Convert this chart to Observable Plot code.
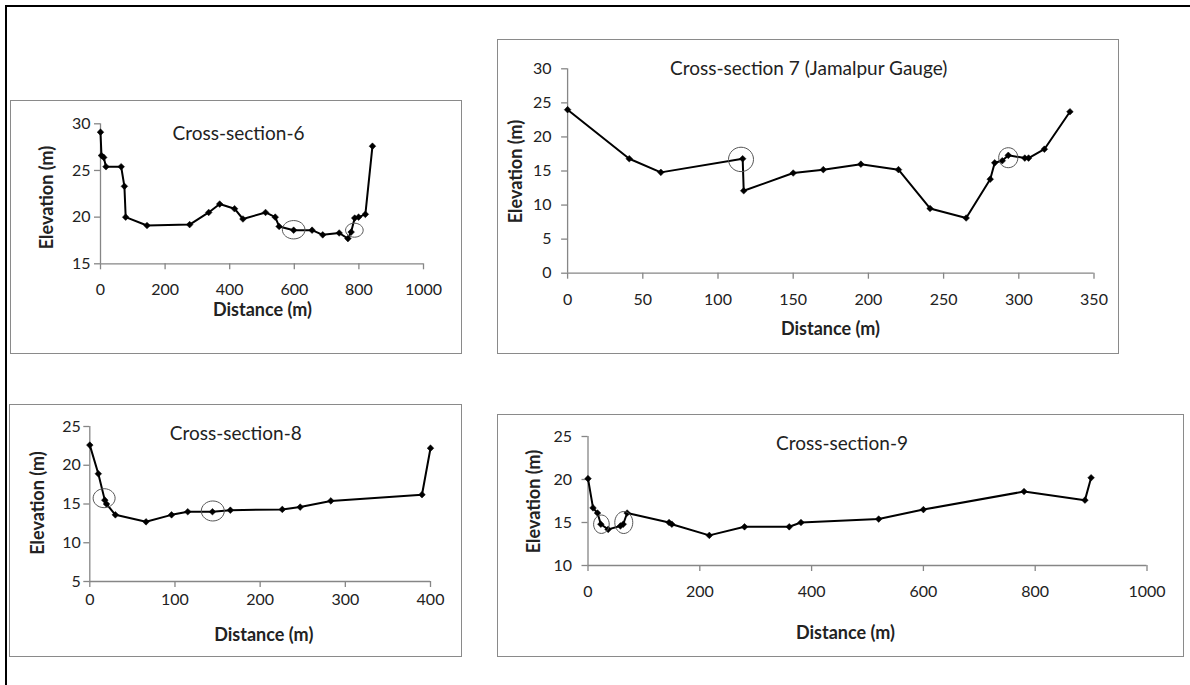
<!DOCTYPE html>
<html>
<head>
<meta charset="utf-8">
<script src="https://cdn.jsdelivr.net/npm/d3@7"></script>
<script src="https://cdn.jsdelivr.net/npm/@observablehq/plot@0.6"></script>
<style>
  html, body { margin: 0; padding: 0; background: #fff; overflow: hidden; }
  body { width: 1190px; height: 685px; position: relative; font-family: Lato, "Open Sans", sans-serif; }
  .frame { position: absolute; left: 5px; top: 5px; width: 1200px; height: 700px; border-left: 2.5px solid #000; border-top: 2.5px solid #000; }
  .box { position: absolute; border: 1.5px solid #8a8a8a; box-sizing: border-box; }
  .chart { position: absolute; }
  .chart svg { overflow: visible; }
</style>
</head>
<body>
<div class="frame"></div>
<script>
// ---------------- DATA ----------------
const CS6_TITLE = "Cross-section-6";
const CS6_DIST = [0, 3, 10, 17, 64, 74, 78, 144, 276, 335, 369, 415, 441, 511, 541, 553, 598, 655, 688, 739, 766, 776, 787, 799, 820, 842];
const CS6_ELEV = [29.1, 26.6, 26.4, 25.4, 25.4, 23.3, 20.0, 19.1, 19.2, 20.5, 21.4, 20.9, 19.8, 20.5, 20.0, 19.0, 18.6, 18.6, 18.1, 18.3, 17.7, 18.4, 19.9, 20.0, 20.3, 27.6];
const CS6_CIRCLE_DIST = [598, 786];
const CS6_CIRCLE_ELEV = [18.65, 18.6];
const CS6_XTICKS = [0, 200, 400, 600, 800, 1000];
const CS6_YTICKS = [15, 20, 25, 30];

const CS7_TITLE = "Cross-section 7 (Jamalpur Gauge)";
const CS7_DIST = [0, 41, 62, 116.4, 117.1, 150, 170, 195, 220, 241, 265, 281, 284, 289, 293, 304, 306.5, 317, 334];
const CS7_ELEV = [24.0, 16.8, 14.8, 16.8, 12.1, 14.7, 15.2, 16.0, 15.2, 9.5, 8.1, 13.8, 16.2, 16.5, 17.3, 16.9, 16.9, 18.2, 23.7];
const CS7_CIRCLE_DIST = [115.3, 293];
const CS7_CIRCLE_ELEV = [16.7, 16.95];
const CS7_XTICKS = [0, 50, 100, 150, 200, 250, 300, 350];
const CS7_YTICKS = [0, 5, 10, 15, 20, 25, 30];

const CS8_TITLE = "Cross-section-8";
const CS8_DIST = [0, 10, 17.6, 19.6, 30, 66, 96, 115, 144, 165, 226, 247, 283, 390, 400];
const CS8_ELEV = [22.6, 18.9, 15.5, 15.0, 13.6, 12.7, 13.6, 14.0, 14.0, 14.2, 14.3, 14.6, 15.4, 16.2, 22.2];
const CS8_CIRCLE_DIST = [16.8, 144.4];
const CS8_CIRCLE_ELEV = [15.75, 14.1];
const CS8_XTICKS = [0, 100, 200, 300, 400];
const CS8_YTICKS = [5, 10, 15, 20, 25];

const CS9_TITLE = "Cross-section-9";
const CS9_DIST = [0, 9, 17, 23, 36, 58, 63, 70, 145, 150, 217, 280, 360, 381, 520, 600, 780, 889, 900];
const CS9_ELEV = [20.1, 16.7, 16.1, 14.8, 14.2, 14.6, 14.8, 16.1, 15.0, 14.8, 13.5, 14.5, 14.5, 15.0, 15.4, 16.5, 18.6, 17.6, 20.2];
const CS9_CIRCLE_DIST = [24, 64];
const CS9_CIRCLE_ELEV = [14.8, 15.0];
const CS9_XTICKS = [0, 200, 400, 600, 800, 1000];
const CS9_YTICKS = [10, 15, 20, 25];

const X_LABEL = "Distance (m)";
const Y_LABEL = "Elevation (m)";

// ---------------- LAYOUT / STYLE ----------------
const AXIS = "#868686";
const TXT = "#222";
const FONT = "Lato, 'Open Sans', sans-serif";
const TICK_FS = 16;

const panels = [
  { title: CS6_TITLE, dist: CS6_DIST, elev: CS6_ELEV, cd: CS6_CIRCLE_DIST, ce: CS6_CIRCLE_ELEV,
    xTicks: CS6_XTICKS, yTicks: CS6_YTICKS,
    box: {l: 10, t: 100, r: 462, b: 354}, plot: {x0: 100, x1: 423, y0: 123.3, y1: 263.3},
    titlePos: [238, 133], yLabPos: [47, 197], xLabPos: [262, 310],
    xPad: 14, yPad: 4, ell: [[11.3, 9.2], [8.8, 7]] },
  { title: CS7_TITLE, dist: CS7_DIST, elev: CS7_ELEV, cd: CS7_CIRCLE_DIST, ce: CS7_CIRCLE_ELEV,
    xTicks: CS7_XTICKS, yTicks: CS7_YTICKS,
    box: {l: 496.5, t: 39, r: 1119, b: 353.5}, plot: {x0: 566.6, x1: 1093, y0: 68.3, y1: 272.7},
    titlePos: [807.7, 68.3], yLabPos: [515, 171], xLabPos: [829.5, 328.3],
    xPad: 14, yPad: 10, ell: [[12.5, 12.2], [9.6, 10]] },
  { title: CS8_TITLE, dist: CS8_DIST, elev: CS8_ELEV, cd: CS8_CIRCLE_DIST, ce: CS8_CIRCLE_ELEV,
    xTicks: CS8_XTICKS, yTicks: CS8_YTICKS,
    box: {l: 9, t: 404, r: 462, b: 657}, plot: {x0: 89.3, x1: 430, y0: 426, y1: 581},
    titlePos: [235.3, 433.3], yLabPos: [37.3, 502.5], xLabPos: [263.3, 635],
    xPad: 6.5, yPad: 3, ell: [[11, 9.5], [11.5, 10]] },
  { title: CS9_TITLE, dist: CS9_DIST, elev: CS9_ELEV, cd: CS9_CIRCLE_DIST, ce: CS9_CIRCLE_ELEV,
    xTicks: CS9_XTICKS, yTicks: CS9_YTICKS,
    box: {l: 496.5, t: 414, r: 1184, b: 657}, plot: {x0: 587, x1: 1146, y0: 436, y1: 565},
    titlePos: [841, 443.3], yLabPos: [533.4, 501], xLabPos: [844.5, 633],
    xPad: 14, yPad: 10, ell: [[7.8, 9.2], [9, 11]] }
];

function ellipseSymbol(rx, ry) {
  const k = 0.5523;
  return {
    draw(ctx) {
      ctx.moveTo(rx, 0);
      ctx.bezierCurveTo(rx, ry * k, rx * k, ry, 0, ry);
      ctx.bezierCurveTo(-rx * k, ry, -rx, ry * k, -rx, 0);
      ctx.bezierCurveTo(-rx, -ry * k, -rx * k, -ry, 0, -ry);
      ctx.bezierCurveTo(rx * k, -ry, rx, -ry * k, rx, 0);
      ctx.closePath();
    }
  };
}

function makePanel(p) {
  const rows = p.dist.map((d, i) => ({d, e: p.elev[i]}));
  const circles = p.cd.map((d, i) => ({d, e: p.ce[i]}));
  const W = p.box.r - p.box.l, H = p.box.b - p.box.t;
  const mL = p.plot.x0 - p.box.l, mR = p.box.r - p.plot.x1;
  const mT = p.plot.y0 - p.box.t, mB = p.box.b - p.plot.y1;
  const cx = (mL + W - mR) / 2, cy = (mT + H - mB) / 2;
  const off = (pos) => ({dx: pos[0] - p.box.l - cx, dy: pos[1] - p.box.t - cy});
  const xDomain = [p.xTicks[0], p.xTicks[p.xTicks.length - 1]];
  const yDomain = [p.yTicks[0], p.yTicks[p.yTicks.length - 1]];
  const fmt = d => String(d);

  const marks = [
    Plot.ruleX([xDomain[0]], {stroke: AXIS, strokeWidth: 1.3}),
    Plot.ruleY([yDomain[0]], {stroke: AXIS, strokeWidth: 1.3}),
    Plot.axisX(p.xTicks, {tickSize: 6, tickPadding: p.xPad, stroke: AXIS, fill: TXT, label: null,
      strokeWidth: 1.3, tickFormat: fmt, fontSize: TICK_FS}),
    Plot.axisY(p.yTicks, {tickSize: 6, tickPadding: p.yPad, stroke: AXIS, fill: TXT, label: null,
      strokeWidth: 1.3, tickFormat: fmt, fontSize: TICK_FS}),
    Plot.line(rows, {x: "d", y: "e", stroke: "#000", strokeWidth: 2}),
    Plot.dot(rows, {x: "d", y: "e", symbol: "diamond2", r: 3, fill: "#000", stroke: "#000", strokeWidth: 0.5})
  ];
  circles.forEach((c, i) => {
    marks.push(Plot.dot([c], {x: "d", y: "e", symbol: ellipseSymbol(p.ell[i][0], p.ell[i][1]), r: 5,
      fill: "none", stroke: "#555", strokeWidth: 1}));
  });
  marks.push(
    Plot.text([p.title], {text: d => d, frameAnchor: "middle", textAnchor: "middle", lineAnchor: "middle",
      ...off(p.titlePos), fontSize: 19, fill: TXT}),
    Plot.text([Y_LABEL], {text: d => d, frameAnchor: "middle", textAnchor: "middle", lineAnchor: "middle",
      rotate: -90, ...off(p.yLabPos), fontSize: 18, fontWeight: "bold", fill: TXT}),
    Plot.text([X_LABEL], {text: d => d, frameAnchor: "middle", textAnchor: "middle", lineAnchor: "middle",
      ...off(p.xLabPos), fontSize: 18, fontWeight: "bold", fill: TXT})
  );

  const chart = Plot.plot({
    width: W, height: H,
    marginLeft: mL, marginRight: mR, marginTop: mT, marginBottom: mB,
    style: {fontFamily: FONT, fontSize: TICK_FS + "px", background: "transparent", color: TXT},
    x: {domain: xDomain},
    y: {domain: yDomain},
    marks
  });

  const box = document.createElement("div");
  box.className = "box";
  Object.assign(box.style, {left: p.box.l + "px", top: p.box.t + "px", width: W + "px", height: H + "px"});
  document.body.appendChild(box);

  const holder = document.createElement("div");
  holder.className = "chart";
  Object.assign(holder.style, {left: p.box.l + "px", top: p.box.t + "px", width: W + "px", height: H + "px"});
  holder.appendChild(chart);
  document.body.appendChild(holder);
}

panels.forEach(makePanel);
</script>
</body>
</html>
